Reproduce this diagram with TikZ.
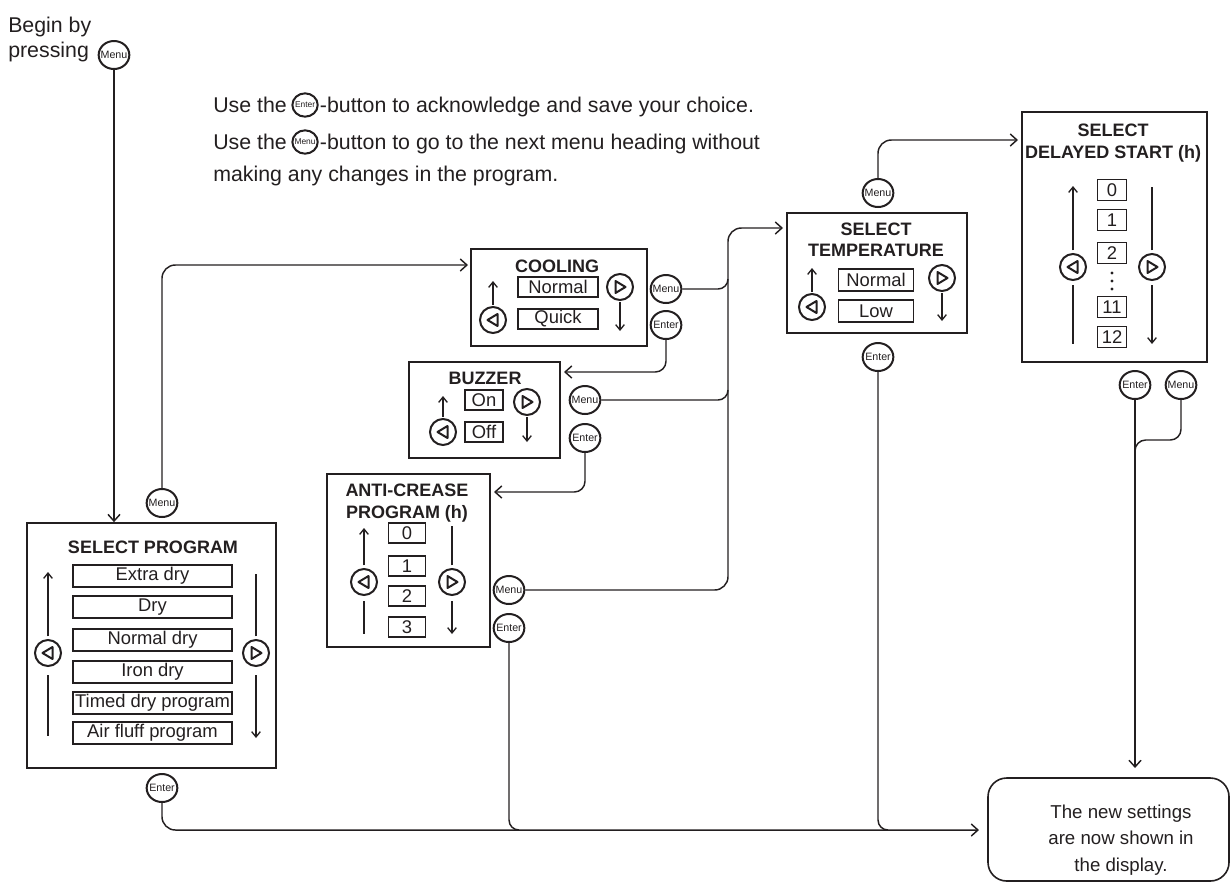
\documentclass[tikz,border=0pt]{standalone}
\usepackage{fontspec}
\setmainfont{Liberation Sans}
\usetikzlibrary{arrows.meta,calc,shapes.geometric}
\definecolor{ink}{RGB}{35,31,32}
\newcommand\btnL[2]{\node[abtn] (#1) at (#2) {};\draw[tri] ($(#1)+(-5.5,0)$) -- ++(10,-6) -- ++(0,12) -- cycle;}
\newcommand\btnR[2]{\node[abtn] (#1) at (#2) {};\draw[tri] ($(#1)+(5.5,0)$) -- ++(-10,-6) -- ++(0,12) -- cycle;}
\begin{document}
\begin{tikzpicture}[x=0.75pt,y=-0.75pt,
  every node/.style={text=ink},
  panel/.style={draw=ink,line width=1.3pt,inner sep=0pt},
  item/.style={draw=ink,line width=1pt,inner sep=0pt,font=\fontsize{13.8}{16}\selectfont},
  btn/.style={ellipse,draw=ink,line width=1.5pt,minimum width=23pt,minimum height=21pt,inner sep=-2.5pt,font=\fontsize{8}{9}\selectfont},
  sbtn/.style={btn,minimum width=19pt,minimum height=17.5pt,inner sep=-2pt,font=\fontsize{6.3}{7}\selectfont},
  abtn/.style={circle,draw=ink,line width=1.5pt,minimum size=19.5pt,inner sep=0pt},
  tri/.style={draw=ink,line width=1.5pt,line join=round},
  conn/.style={draw=ink,line width=1.1pt},
  arr/.style={conn,-{Straight Barb[length=5pt,width=9pt]}},
  sarr/.style={conn,line width=1pt,-{Straight Barb[length=4pt,width=6.5pt]}},
  sline/.style={conn,line width=1pt},
  title/.style={font=\bfseries\fontsize{13.5}{16}\selectfont,align=center},
  big/.style={font=\fontsize{16}{19}\selectfont},
]
\useasboundingbox (0,0) rectangle (1231,883);

% ---------- top texts ----------
\node[big,anchor=base west,inner sep=0pt] (bg1) at (8,32) {Begin by};
\node[big,anchor=base west,inner sep=0pt] (bg2) at (8,57) {pressing};
\node[btn] (bm) at (114,55) {Menu};

\node[big,anchor=base west,inner sep=0pt] (u1) at (213,112) {Use the};
\node[sbtn] (ie) at ($(u1.base east)+(18,-7)$) {Enter};
\node[big,anchor=base west,inner sep=0pt] (u1b) at ($(ie.east)+(1,7)$) {-button to acknowledge and save your choice.};
\node[big,anchor=base west,inner sep=0pt] (u2) at (213,149) {Use the};
\node[sbtn] (im) at ($(u2.base east)+(18,-7)$) {Menu};
\node[big,anchor=base west,inner sep=0pt] (u2b) at ($(im.east)+(1,7)$) {-button to go to the next menu heading without};
\node[big,anchor=base west,inner sep=0pt] (u3) at (213,181) {making any changes in the program.};

% ---------- SELECT PROGRAM ----------
\node[panel,minimum width=186.75pt,minimum height=183.75pt] (sp) at (151.5,645.5) {};
\node[title] (spt) at (153,547) {SELECT PROGRAM};
\foreach \n/\t/\y in {p1/Extra dry/576,p2/Dry/607,p3/Normal dry/640,p4/Iron dry/672,p5/Timed dry program/703,p6/Air fluff program/733}
  \node[item,minimum width=119.25pt,minimum height=16.5pt] (\n) at (152.5,\y) {\t};
\btnL{pl}{48,653}
\btnR{pr}{256,653}
\draw[sarr,shorten <=2pt] (pl.north) -- ++(0,-67);
\draw[sline,shorten <=6pt] (pl.south) -- ++(0,69);
\draw[sline,shorten <=2pt] (pr.north) -- ++(0,-65);
\draw[sarr,shorten <=6pt] (pr.south) -- ++(0,71);
\node[btn] (m1) at (162,503) {Menu};
\node[btn] (e1) at (162,788) {Enter};

% ---------- COOLING ----------
\node[panel,minimum width=132pt,minimum height=72.75pt] (cool) at (559,297.5) {};
\node[title] (coolt) at (557,266) {COOLING};
\node[item,minimum width=60pt,minimum height=15pt] (c1) at (558,287) {Normal};
\node[item,minimum width=60pt,minimum height=15pt] (c2) at (558,319) {Quick};
\btnL{cl}{493,320}
\btnR{cr}{620,287}
\draw[sarr,shorten <=1pt] (cl.north) -- ++(0,-25);
\draw[sarr,shorten <=1pt] (cr.south) -- ++(0,30);
\node[btn] (cm) at (666,289) {Menu};
\node[btn] (ce) at (666,325) {Enter};

% ---------- BUZZER ----------
\node[panel,minimum width=113.25pt,minimum height=72pt] (buz) at (484.5,410) {};
\node[title] (buzt) at (485,378) {BUZZER};
\node[item,minimum width=28.5pt,minimum height=15pt] (b1) at (484,400) {On};
\node[item,minimum width=28.5pt,minimum height=15pt] (b2) at (484,432) {Off};
\btnL{bl}{443,432}
\btnR{br}{527,402}
\draw[sarr,shorten <=1pt] (bl.north) -- ++(0,-22);
\draw[sarr,shorten <=1pt] (br.south) -- ++(0,26);
\node[btn] (bzm) at (585,400) {Menu};
\node[btn] (bze) at (585,438) {Enter};

% ---------- ANTI-CREASE ----------
\node[panel,minimum width=122.25pt,minimum height=129.75pt] (anti) at (408.5,560.5) {};
\node[title] (antit) at (407,503) {ANTI-CREASE\\PROGRAM (h)};
\foreach \n/\t/\y in {a0/0/533,a1/1/566,a2/2/596,a3/3/627}
  \node[item,minimum width=27.75pt,minimum height=15pt] (\n) at (407,\y) {\t};
\btnL{al}{364,582}
\btnR{ar}{452,582}
\draw[sarr,shorten <=2pt] (al.north) -- ++(0,-40);
\draw[sline,shorten <=4pt] (al.south) -- ++(0,38);
\draw[sline,shorten <=2pt] (ar.north) -- ++(0,-42);
\draw[sarr,shorten <=4pt] (ar.south) -- ++(0,38);
\node[btn] (am) at (509,590) {Menu};
\node[btn] (ae) at (509,628) {Enter};

% ---------- SELECT TEMPERATURE ----------
\node[panel,minimum width=135pt,minimum height=90pt] (temp) at (877,273) {};
\node[title] (tempt) at (876,240) {SELECT\\TEMPERATURE};
\node[item,minimum width=56.25pt,minimum height=16.5pt] (t1) at (876,280) {Normal};
\node[item,minimum width=56.25pt,minimum height=16.5pt] (t2) at (876,311) {Low};
\btnL{tl}{812,307}
\btnR{tr}{942,278}
\draw[sarr,shorten <=1pt] (tl.north) -- ++(0,-25);
\draw[sarr,shorten <=1pt] (tr.south) -- ++(0,29);
\node[btn] (tm) at (878,193) {Menu};
\node[btn] (te) at (878,357) {Enter};

% ---------- SELECT DELAYED START ----------
\node[panel,minimum width=138.75pt,minimum height=187.5pt] (del) at (1114.5,237) {};
\node[title] (delt) at (1113,143) {SELECT\\DELAYED START (h)};
\foreach \n/\t/\y in {d0/0/190,d1/1/220,d2/2/253,d11/11/307,d12/12/337}
  \node[item,minimum width=21.75pt,minimum height=15.75pt] (\n) at (1112,\y) {\t};
\foreach \y in {273,281,289} \fill[ink] (1112,\y) circle[radius=1.6];
\btnL{dl}{1073,267}
\btnR{dr}{1152,267}
\draw[sarr,shorten <=2pt] (dl.north) -- ++(0,-67);
\draw[sline,shorten <=3pt] (dl.south) -- ++(0,63);
\draw[sline,shorten <=2pt] (dr.north) -- ++(0,-66);
\draw[sarr,shorten <=3pt] (dr.south) -- ++(0,63);
\node[btn] (de) at (1135,385) {Enter};
\node[btn] (dm) at (1181,385) {Menu};

% ---------- final box ----------
\node[draw=ink,line width=1.2pt,rounded corners=14pt,minimum width=180.75pt,minimum height=77.25pt] (fbox) at (1108.5,829.5) {};
\node[font=\fontsize{14}{20}\selectfont,align=center] (ftext) at (1121,840) {The new settings\\are now shown in\\the display.};

% ---------- coordinates ----------
\coordinate (cin) at (468,265);
\coordinate (bin) at (564,372);
\coordinate (ain) at (494,492);
\coordinate (tin) at (783,228);
\coordinate (din) at (1018,140);
\coordinate (bus) at (728,228);
\coordinate (fin) at (979,830);
\coordinate (fin2) at (1135,768);
\coordinate (j1) at (728,279);
\coordinate (j2) at (728,390);
\coordinate (j3) at ($(ae.south |- fin)+(10,0)$);
\coordinate (j4) at ($(te.south |- fin)+(10,0)$);
\coordinate (j5) at (1135,452);

% ---------- connectors ----------
\draw[arr] (bm.south) -- (bm.south |- sp.north);
\draw[arr,rounded corners=10pt] (m1.north) |- (cin);
\draw[arr,rounded corners=10pt] (e1.south) |- (fin);
\draw[arr,rounded corners=8pt] (ce.south) |- (bin);
\draw[arr,rounded corners=8pt] (bze.south) |- (ain);
\draw[arr,rounded corners=10pt] (am.east) -| (bus) -- (tin);
\draw[conn] (cm.east) -- ($(j1)+(-10,10)$) to[out=0,in=-90] (j1);
\draw[conn] (bzm.east) -- ($(j2)+(-10,10)$) to[out=0,in=-90] (j2);
\draw[conn] (ae.south) -- ($(j3)+(-10,-10)$) to[out=-90,in=180] (j3);
\draw[conn] (te.south) -- ($(j4)+(-10,-10)$) to[out=-90,in=180] (j4);
\draw[arr,rounded corners=10pt] (tm.north) |- (din);
\draw[arr] (de.south) -- (fin2);
\draw[conn,rounded corners=8pt] (dm.south) |- ($(j5)+(0,-12)$) -- (j5);
\end{tikzpicture}
\end{document}
